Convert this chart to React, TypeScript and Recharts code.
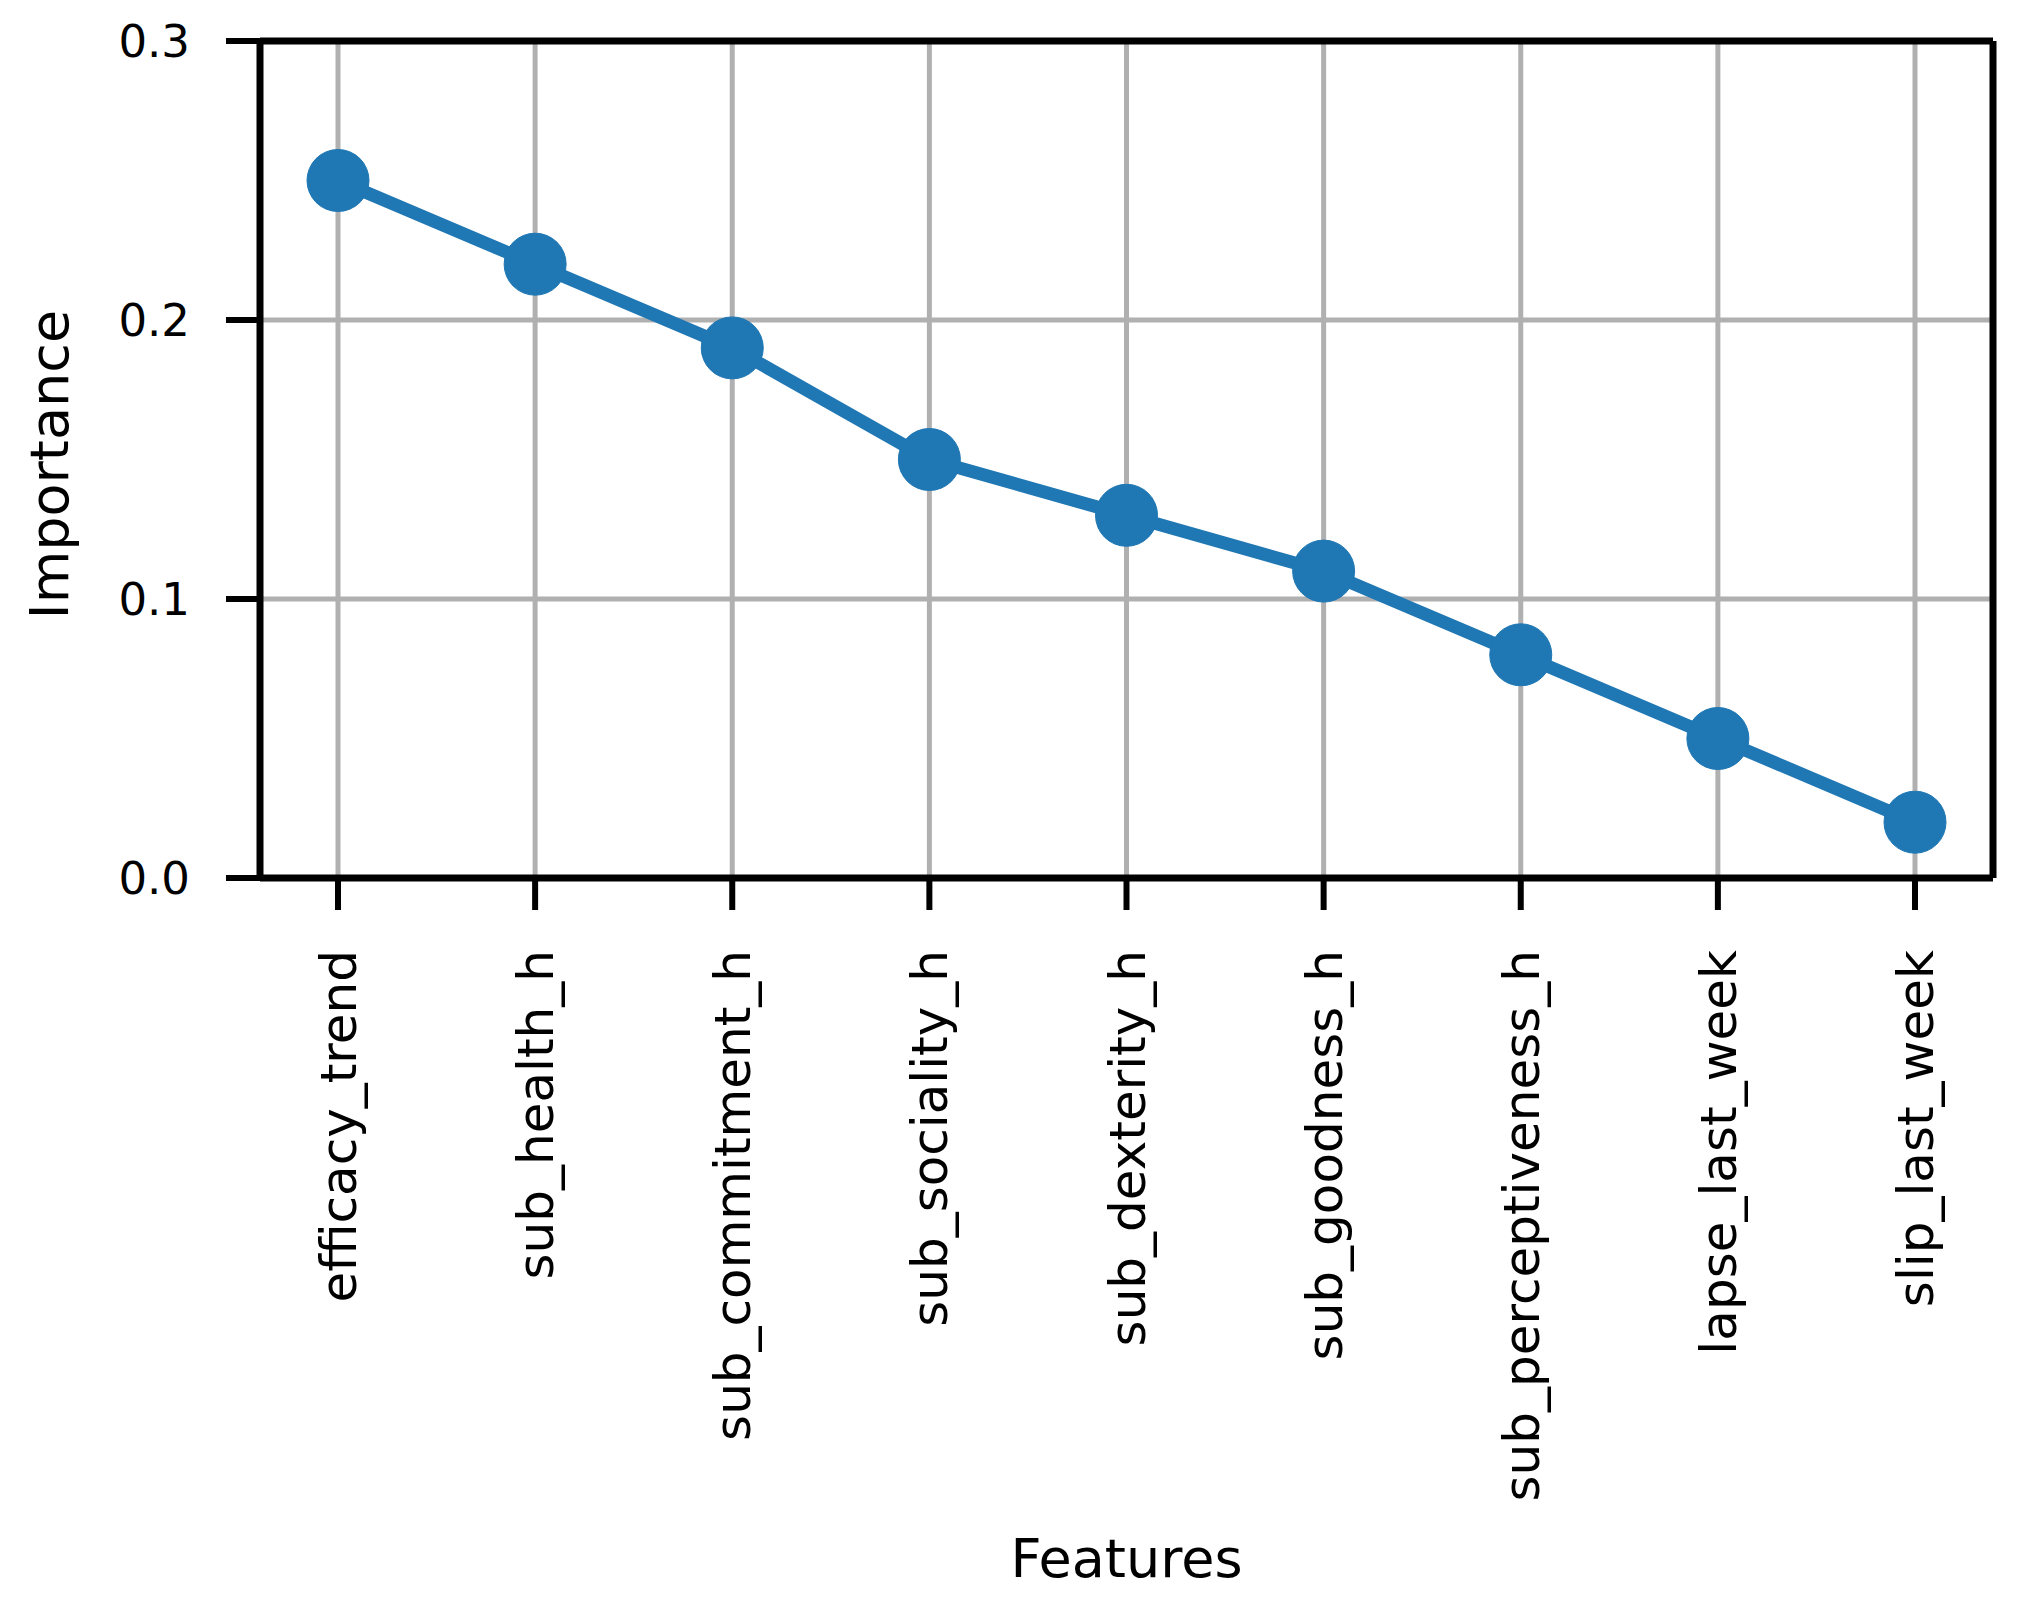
import { LineChart, Line, XAxis, YAxis, CartesianGrid, Label } from "recharts";

const FEATURES = [
  "efficacy_trend",
  "sub_health_h",
  "sub_commitment_h",
  "sub_sociality_h",
  "sub_dexterity_h",
  "sub_goodness_h",
  "sub_perceptiveness_h",
  "lapse_last_week",
  "slip_last_week",
];

const IMPORTANCE = [0.25, 0.22, 0.19, 0.15, 0.13, 0.11, 0.08, 0.05, 0.02];

const Y_TICKS = [0, 0.1, 0.2, 0.3];

const FONT = "'DejaVu Sans', sans-serif";
const BLUE = "#1f77b4";

const data = FEATURES.map((name, i) => ({ name, value: IMPORTANCE[i] }));

function FeatureTick(props: any) {
  const { x, y, payload } = props;
  return (
    <g transform={`translate(${x},${y})`}>
      <text
        transform="rotate(-90)"
        textAnchor="end"
        dy="0.36em"
        fontFamily={FONT}
        fontSize={50}
        fill="#000"
      >
        {payload.value}
      </text>
    </g>
  );
}

export default function App() {
  return (
    <div style={{ position: "absolute", left: 0, top: 0, background: "#fff" }}>
      <style>{"body{margin:0;}"}</style>
      <LineChart
        width={2018}
        height={1605}
        data={data}
        margin={{ top: 40, right: 24, left: 0, bottom: 0 }}
      >
        <CartesianGrid stroke="#b0b0b0" strokeWidth={5} />
        <XAxis
          dataKey="name"
          interval={0}
          height={727}
          padding={{ left: 78, right: 78 }}
          axisLine={{ stroke: "#000", strokeWidth: 7 }}
          tickLine={{ stroke: "#000", strokeWidth: 6 }}
          tickSize={32}
          tickMargin={40}
          tick={<FeatureTick />}
        >
          <Label
            value="Features"
            position="insideBottom"
            offset={28}
            style={{ fontFamily: FONT, fontSize: 54, fill: "#000" }}
          />
        </XAxis>
        <XAxis
          xAxisId="top"
          orientation="top"
          dataKey="name"
          height={1}
          padding={{ left: 78, right: 78 }}
          tick={false}
          tickLine={false}
          axisLine={{ stroke: "#000", strokeWidth: 7 }}
        />
        <YAxis
          width={260}
          domain={[0, 0.3]}
          ticks={Y_TICKS}
          tickFormatter={(v: number) => v.toFixed(1)}
          axisLine={{ stroke: "#000", strokeWidth: 7 }}
          tickLine={{ stroke: "#000", strokeWidth: 6 }}
          tickSize={34}
          tickMargin={36}
          tick={{ fontFamily: FONT, fontSize: 45, fill: "#000" }}
        >
          <Label
            content={(p: any) => {
              const vb = p.viewBox;
              const cx = vb.x + 68;
              const cy = vb.y + vb.height / 2 + 5;
              return (
                <text
                  x={cx}
                  y={cy}
                  transform={`rotate(-90, ${cx}, ${cy})`}
                  textAnchor="middle"
                  fontFamily={FONT}
                  fontSize={54}
                  fill="#000"
                >
                  Importance
                </text>
              );
            }}
          />
        </YAxis>
        <YAxis
          yAxisId="right"
          orientation="right"
          width={1}
          domain={[0, 0.3]}
          tick={false}
          tickLine={false}
          axisLine={{ stroke: "#000", strokeWidth: 7 }}
        />
        <Line
          dataKey="value"
          stroke={BLUE}
          strokeWidth={13}
          dot={{ r: 31, fill: BLUE, stroke: BLUE, strokeWidth: 1 }}
          activeDot={false}
          isAnimationActive={false}
        />
      </LineChart>
    </div>
  );
}
